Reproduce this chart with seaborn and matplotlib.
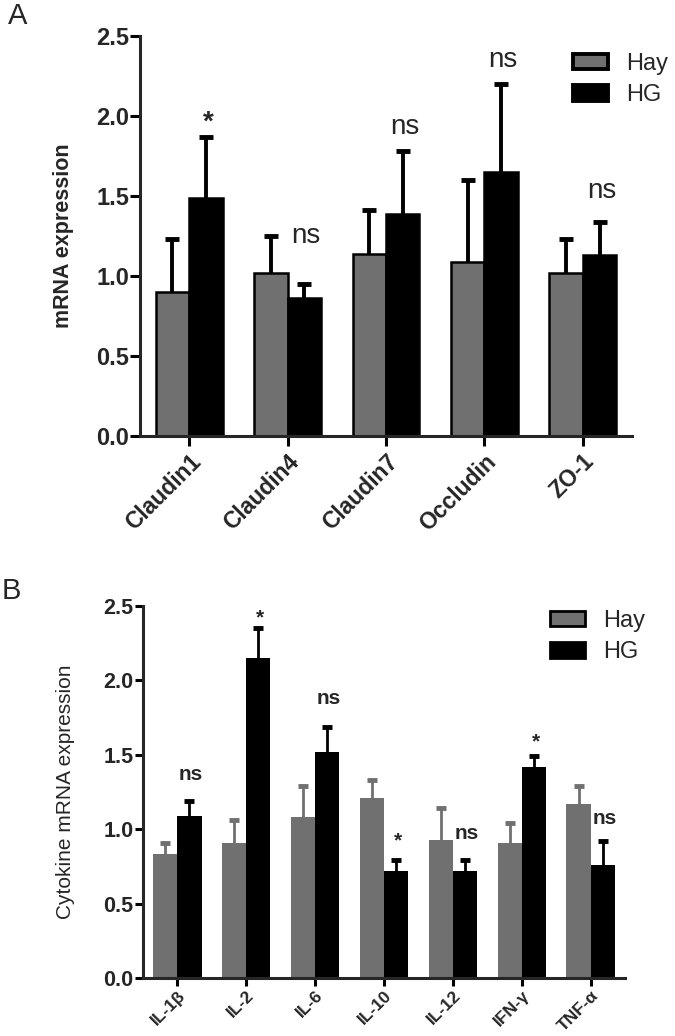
import matplotlib
matplotlib.use("Agg")
import matplotlib.pyplot as plt
from matplotlib.patches import Patch
import seaborn as sns
import pandas as pd
import numpy as np

# ==========================================
# DATA
# ==========================================
genes_a = ["Claudin1", "Claudin4", "Claudin7", "Occludin", "ZO-1"]
hay_a = [0.90, 1.02, 1.14, 1.09, 1.02]
hay_a_err = [0.33, 0.23, 0.27, 0.51, 0.21]
hg_a = [1.49, 0.86, 1.39, 1.65, 1.13]
hg_a_err = [0.38, 0.09, 0.39, 0.55, 0.21]
sig_a = ["*", "ns", "ns", "ns", "ns"]
sig_a_y = [1.96, 1.25, 1.93, 2.35, 1.53]

cyto_b = ["IL-1β", "IL-2", "IL-6", "IL-10", "IL-12", "IFN-γ", "TNF-α"]
hay_b = [0.83, 0.91, 1.08, 1.21, 0.93, 0.91, 1.17]
hay_b_err = [0.08, 0.15, 0.21, 0.12, 0.21, 0.13, 0.12]
hg_b = [1.09, 2.15, 1.52, 0.72, 0.72, 1.42, 0.76]
hg_b_err = [0.10, 0.20, 0.17, 0.07, 0.07, 0.07, 0.16]
sig_b = ["ns", "*", "ns", "*", "ns", "*", "ns"]
sig_b_y = [1.37, 2.42, 1.88, 0.92, 0.97, 1.59, 1.075]

groups = ["Hay", "HG"]
yticks = [0.0, 0.5, 1.0, 1.5, 2.0, 2.5]

GRAY = "#707070"
BLACK = "#000000"

sns.set_style("ticks")
plt.rcParams["font.family"] = ["Liberation Sans", "DejaVu Sans"]


def make_df(cats, hay, hg):
    return pd.DataFrame({
        "gene": cats * 2,
        "value": hay + hg,
        "group": ["Hay"] * len(cats) + ["HG"] * len(cats),
    })


def style_axis(ax, lw, tick_len):
    sns.despine(ax=ax)
    for s in ["left", "bottom"]:
        ax.spines[s].set_linewidth(lw)
    ax.tick_params(axis="both", width=lw, length=tick_len, color="black")


def draw_panel(ax, cats, hay, hay_err, hg, hg_err, sig, sig_y, cfg):
    df = make_df(cats, hay, hg)
    sns.barplot(data=df, x="gene", y="value", hue="group", hue_order=groups,
                palette=[GRAY, BLACK], width=cfg["width"], errorbar=None,
                edgecolor=cfg["edge"], linewidth=cfg["edge_lw"], legend=False, ax=ax)

    # one-sided error bars on top of each bar (lower cap hidden)
    err_cols = [cfg["hay_err_color"], BLACK]
    for cont, err, col in zip(list(ax.containers), [hay_err, hg_err], err_cols):
        xs = [b.get_x() + b.get_width() / 2 for b in cont]
        ys = [b.get_height() for b in cont]
        eb = ax.errorbar(xs, ys, yerr=[np.zeros(len(err)), err], fmt="none",
                         ecolor=col, elinewidth=cfg["err_lw"], capsize=cfg["capsize"],
                         capthick=cfg["capthick"], zorder=1)
        caps = eb[1]
        if len(caps) > 1:
            caps[0].set_visible(False)

    # significance marks over HG bars
    for i, (s, y) in enumerate(zip(sig, sig_y)):
        ax.text(i + cfg["sig_dx"], y, s, ha="center", va="center",
                fontsize=cfg["sig_size"] if s == "ns" else cfg["star_size"],
                fontweight=cfg["sig_weight"] if s == "ns" else "bold")

    ax.set_ylim(0, 2.5)
    ax.set_xlim(-0.5, len(cats) - 0.5)
    ax.set_yticks(yticks)
    ax.set_yticklabels([f"{t:.1f}" for t in yticks], fontsize=cfg["ytick_size"],
                       fontweight="bold")
    ax.set_xticks(range(len(cats)))
    ax.set_xticklabels(cats, rotation=45, ha="right", rotation_mode="anchor",
                       fontsize=cfg["xtick_size"], fontweight="bold")
    ax.set_xlabel("")
    style_axis(ax, cfg["axis_lw"], cfg["tick_len"])
    ax.tick_params(axis="y", pad=1)
    ax.tick_params(axis="x", pad=cfg["xpad"])

    handles = [Patch(facecolor=GRAY, edgecolor="black", linewidth=cfg["leg_edge"]),
               Patch(facecolor=BLACK, edgecolor="black", linewidth=cfg["leg_edge"])]
    ax.legend(handles, groups, loc="upper left", bbox_to_anchor=cfg["leg_pos"],
              bbox_transform=ax.figure.transFigure, frameon=False, borderpad=0,
              fontsize=cfg["leg_size"], handlelength=1.5, handleheight=0.62,
              handletextpad=0.75, labelspacing=0.4)


fig = plt.figure(figsize=(6.75, 10.36), dpi=100)
ax_a = fig.add_axes([140 / 675, 1 - 436 / 1036, 492 / 675, 400 / 1036])
ax_b = fig.add_axes([143 / 675, 1 - 978 / 1036, 482 / 675, 372 / 1036])

cfg_a = dict(width=0.68, edge="black", edge_lw=1.8, hay_err_color=BLACK,
             err_lw=2.8, capsize=5, capthick=3.5, sig_dx=0.19, sig_size=20,
             star_size=20, sig_weight="normal", ytick_size=17, xtick_size=16.5,
             axis_lw=2.2, tick_len=7, xpad=3, leg_edge=2.8, leg_size=17,
             leg_pos=(561 / 675, 1 - 41 / 1036))
cfg_b = dict(width=0.7, edge="none", edge_lw=0, hay_err_color=GRAY,
             err_lw=2.0, capsize=3.5, capthick=3.5, sig_dx=0.2, sig_size=15,
             star_size=15, sig_weight="bold", ytick_size=15.5, xtick_size=12.5,
             axis_lw=2.2, tick_len=6, xpad=1, leg_edge=2.0, leg_size=17,
             leg_pos=(538 / 675, 1 - 598 / 1036))

draw_panel(ax_a, genes_a, hay_a, hay_a_err, hg_a, hg_a_err, sig_a, sig_a_y, cfg_a)
ax_a.set_ylabel("mRNA expression", fontsize=15.5, fontweight="bold", labelpad=16)

draw_panel(ax_b, cyto_b, hay_b, hay_b_err, hg_b, hg_b_err, sig_b, sig_b_y, cfg_b)
ax_b.set_ylabel("Cytokine mRNA expression", fontsize=15, labelpad=20)

fig.text(8 / 675, 1 - 2 / 1036, "A", fontsize=21, va="top", ha="left")
fig.text(2 / 675, 1 - 577 / 1036, "B", fontsize=21, va="top", ha="left")

fig.savefig("out.png", dpi=100)
